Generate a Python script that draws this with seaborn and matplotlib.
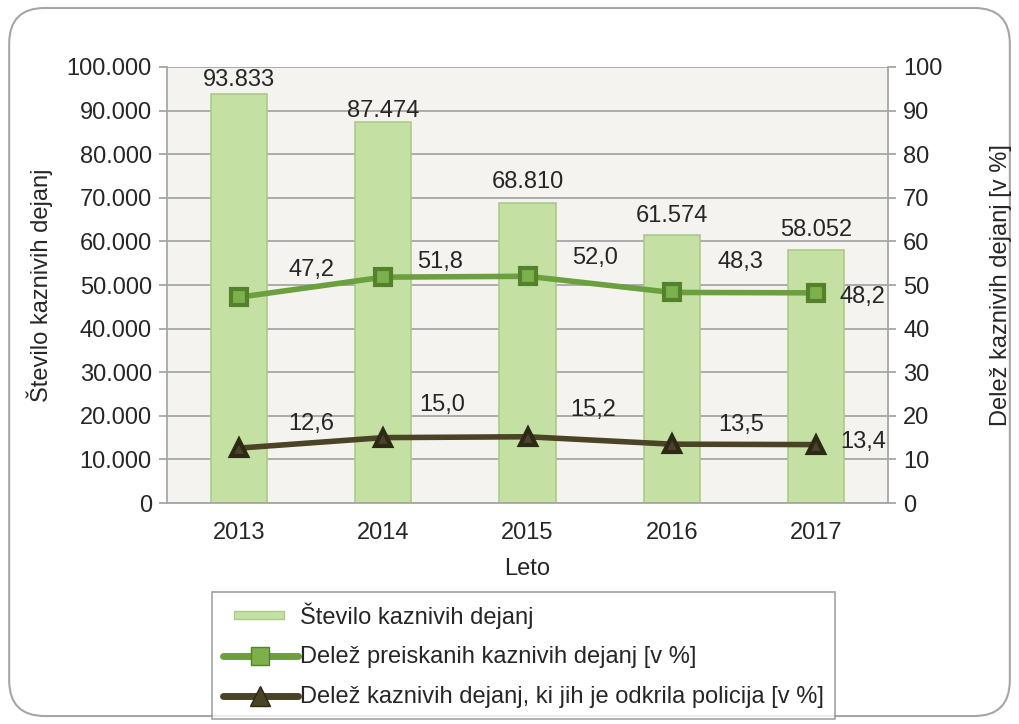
import matplotlib
matplotlib.use("Agg")
import matplotlib.pyplot as plt
import matplotlib.ticker as mticker
from matplotlib.patches import FancyBboxPatch, Patch, Rectangle
from matplotlib.lines import Line2D
from matplotlib.legend_handler import HandlerPatch
import seaborn as sns
import pandas as pd

# Data
years = ["2013", "2014", "2015", "2016", "2017"]
stevilo = [93833, 87474, 68810, 61574, 58052]
delez_preiskanih = [47.2, 51.8, 52.0, 48.3, 48.2]
delez_policija = [12.6, 15.0, 15.2, 13.5, 13.4]

bar_label = "Število kaznivih dejanj"
line1_label = "Delež preiskanih kaznivih dejanj [v %]"
line2_label = "Delež kaznivih dejanj, ki jih je odkrila policija [v %]"

df = pd.DataFrame({"Leto": years, "stevilo": stevilo,
                   "preiskana": delez_preiskanih, "policija": delez_policija})

sns.set_style("white")
plt.rcParams["font.family"] = ["Liberation Sans", "DejaVu Sans"]
FS = 17
plt.rcParams["font.size"] = FS

BAR_COLOR = "#C4E1A3"
BAR_EDGE = "#AACB88"
LINE1 = "#6CA03E"
MARK1 = "#7DB04A"
LINE2 = "#4B4326"
GRID = "#A6A6A6"
TXT = "#262626"

# label offsets in pixels (dx, dy), converted to points below
bar_lbl_dy = [14, 11, 21, 19, 20]
l1_off = [(72, 27), (57, 15), (68, 18), (69, 30), (47, -4)]
l2_off = [(72, 24), (59, 33), (66, 27), (69, 19), (47, 3)]
px = 0.72

fig = plt.figure(figsize=(10.19, 7.24), dpi=100)
ax = fig.add_axes([0.164, 0.3052, 0.7074, 0.6023])
ax.set_facecolor("#F5F3EF")

# Rounded chart frame
frame = FancyBboxPatch((0.009, 0.011), 0.982, 0.978, transform=fig.transFigure,
                       boxstyle="round,pad=0,rounding_size=0.035",
                       facecolor="none", edgecolor="#A6A6A6", linewidth=1.5,
                       mutation_aspect=1019 / 724, zorder=-1)
fig.patches.append(frame)

sns.barplot(data=df, x="Leto", y="stevilo", ax=ax, color=BAR_COLOR,
            width=0.39, edgecolor=BAR_EDGE, linewidth=1.2, saturation=1, zorder=2)

ax.set_ylim(0, 100000)
ax.set_xlim(-0.5, 4.5)
ax.yaxis.set_major_locator(mticker.MultipleLocator(10000))
ax.yaxis.set_major_formatter(mticker.FuncFormatter(lambda v, p: f"{int(v):,}".replace(",", ".")))
ax.grid(axis="y", color=GRID, linewidth=1.3, zorder=0)
ax.set_axisbelow(True)
ax.set_xticks([0, 1, 2, 3, 4])
ax.set_xticklabels(years)
ax.xaxis.set_minor_locator(mticker.FixedLocator([0.5, 1.5, 2.5, 3.5]))
ax.tick_params(axis="x", which="major", length=0, pad=14, labelsize=FS, labelcolor=TXT)
ax.tick_params(axis="x", which="minor", length=6, width=1.3, color=GRID, direction="out")
ax.tick_params(axis="y", length=6, width=1.3, color=GRID, direction="out", pad=5,
               labelsize=FS, labelcolor=TXT)
ax.set_xlabel("Leto", fontsize=FS, color=TXT, labelpad=10)
ax.set_ylabel(bar_label, fontsize=FS, color=TXT, labelpad=10)
for s in ["left", "right", "bottom"]:
    ax.spines[s].set_color(GRID)
    ax.spines[s].set_linewidth(1.3)
ax.spines["top"].set_visible(False)

for i, v in enumerate(stevilo):
    ax.annotate(f"{v:,}".replace(",", "."), (i, v), xytext=(0, bar_lbl_dy[i] * px),
                textcoords="offset points", ha="center", va="center",
                fontsize=FS, color=TXT, zorder=5)

ax2 = ax.twinx()
sns.pointplot(data=df, x="Leto", y="preiskana", ax=ax2, color=LINE1, markers="s",
              linestyles="-", linewidth=4, markersize=11, zorder=4,
              markeredgecolor="#53812C", markerfacecolor=MARK1)
sns.pointplot(data=df, x="Leto", y="policija", ax=ax2, color=LINE2, markers="^",
              linestyles="-", linewidth=4, markersize=12, zorder=4,
              markeredgecolor="#2E2816", markerfacecolor=LINE2)
ax2.set_ylim(0, 100)
ax2.set_xlim(-0.5, 4.5)
ax2.yaxis.set_major_locator(mticker.MultipleLocator(10))
ax2.tick_params(axis="y", length=6, width=1.3, color=GRID, direction="out", pad=5,
                labelsize=FS, labelcolor=TXT)
ax2.set_ylabel("Delež kaznivih dejanj [v %]", fontsize=FS, color=TXT, labelpad=34)
ax2.set_xlabel("")
for s in ax2.spines.values():
    s.set_visible(False)

fmt = lambda v: f"{v:.1f}".replace(".", ",")
for i, v in enumerate(delez_preiskanih):
    dx, dy = l1_off[i]
    ax2.annotate(fmt(v), (i, v), xytext=(dx * px, dy * px), textcoords="offset points",
                 ha="center", va="center", fontsize=FS, color=TXT, zorder=6)
for i, v in enumerate(delez_policija):
    dx, dy = l2_off[i]
    ax2.annotate(fmt(v), (i, v), xytext=(dx * px, dy * px), textcoords="offset points",
                 ha="center", va="center", fontsize=FS, color=TXT, zorder=6)


def thin_bar(legend, orig_handle, xdescent, ydescent, width, height, fontsize):
    # a flat bar swatch, narrower than the line handles
    h = 6.0
    return Rectangle((8 - xdescent, -ydescent + (height - h) / 2), 36, h)


handles = [
    Patch(facecolor=BAR_COLOR, edgecolor=BAR_EDGE, linewidth=1),
    Line2D([], [], color=LINE1, linewidth=5, marker="s", markersize=13,
           markerfacecolor=MARK1, markeredgecolor="#53812C"),
    Line2D([], [], color=LINE2, linewidth=5, marker="^", markersize=14,
           markerfacecolor=LINE2, markeredgecolor="#2E2816"),
]
leg = fig.legend(handles, [bar_label, line1_label, line2_label],
                 loc="upper left", bbox_to_anchor=(0.208, 0.183),
                 frameon=True, fancybox=False, edgecolor="#8C8C8C",
                 fontsize=FS, handlelength=3.2, handleheight=0.35,
                 handletextpad=0.1, labelspacing=0.75, borderpad=0.45,
                 borderaxespad=0,
                 handler_map={Patch: HandlerPatch(patch_func=thin_bar)})
leg.get_frame().set_linewidth(1.2)
for t in leg.get_texts():
    t.set_color(TXT)

fig.savefig("out.png", dpi=100, facecolor="white")
